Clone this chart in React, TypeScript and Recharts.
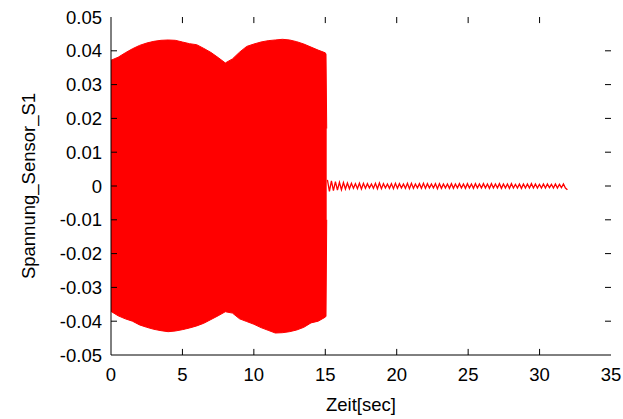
import {
  Area,
  ComposedChart,
  Line,
  ReferenceLine,
  XAxis,
  YAxis,
} from "recharts";

// time axis (sec) and voltage ticks
const xTicks = [0, 5, 10, 15, 20, 25, 30, 35];
const yTicks = [-0.05, -0.04, -0.03, -0.02, -0.01, 0, 0.01, 0.02, 0.03, 0.04, 0.05];

// burst 0..15 s: envelope of the oscillation, read every 0.5 s
const burstTime = [
  0, 0.5, 1, 1.5, 2, 2.5, 3, 3.5, 4, 4.5, 5, 5.5, 6, 6.5, 7, 7.5, 8, 8.5, 9, 9.5,
  10, 10.5, 11, 11.5, 12, 12.5, 13, 13.5, 14, 14.5, 15, 15.05, 15.1,
];
const burstHigh = [
  0.0372, 0.0381, 0.0394, 0.0406, 0.0416, 0.0423, 0.0428, 0.0431, 0.0432, 0.0431,
  0.0426, 0.0421, 0.0418, 0.0407, 0.0395, 0.038, 0.0364, 0.0376, 0.0396, 0.0413,
  0.042, 0.0426, 0.043, 0.0432, 0.0434, 0.0432, 0.0427, 0.042, 0.0411, 0.0402,
  0.0394, 0.039, 0.017,
];
const burstLow = [
  -0.0371, -0.0384, -0.0393, -0.04, -0.0411, -0.0418, -0.0424, -0.0428, -0.0431, -0.0429,
  -0.0425, -0.042, -0.0414, -0.0406, -0.0395, -0.0384, -0.0372, -0.0376, -0.0393, -0.0401,
  -0.0409, -0.0419, -0.0427, -0.0435, -0.0434, -0.0431, -0.0426, -0.0418, -0.0405, -0.04,
  -0.0388, -0.0385, -0.01,
];

// decay after 15 s, sampled every 0.14 s
const tailStart = 15.15;
const tailStep = 0.14;
const tailValues = [
  0.0018, -0.0016, 0.0015, -0.0014, 0.0013, -0.0012, 0.0011, -0.0011, 0.001, -0.0009,
  0.0009, -0.0008, 0.0008, -0.0007, 0.0007, -0.0008, 0.0008, -0.0009, 0.0008, -0.0007,
  0.0007, -0.0006, 0.0006, -0.0007, 0.0008, -0.0008, 0.0009, -0.0008, 0.0007, -0.0006,
  0.0006, -0.0007, 0.0007, -0.0008, 0.0008, -0.0007, 0.0007, -0.0006, 0.0006, -0.0007,
  0.0008, -0.0008, 0.0008, -0.0007, 0.0006, -0.0006, 0.0007, -0.0007, 0.0008, -0.0007,
  0.0007, -0.0006, 0.0006, -0.0006, 0.0007, -0.0008, 0.0007, -0.0007, 0.0006, -0.0006,
  0.0006, -0.0007, 0.0007, -0.0007, 0.0006, -0.0006, 0.0007, -0.0006, 0.0006, -0.0007,
  0.0007, -0.0006, 0.0006, -0.0007, 0.0007, -0.0006, 0.0006, -0.0006, 0.0007, -0.0006,
  0.0006, -0.0007, 0.0007, -0.0006, 0.0006, -0.0006, 0.0007, -0.0007, 0.0006, -0.0006,
  0.0006, -0.0007, 0.0007, -0.0006, 0.0005, -0.0006, 0.0006, -0.0007, 0.0006, -0.0006,
  0.0006, -0.0006, 0.0007, -0.0006, 0.0006, -0.0006, 0.0005, -0.0006, 0.0006, -0.0006,
  0.0006, -0.0005, 0.0005, -0.0006, 0.0006, -0.0006, 0.0005, -0.0005, 0.0006, -0.0006,
  -0.0011,
];

const data = [
  ...burstTime.map((t, i) => ({ t, band: [burstLow[i], burstHigh[i]] })),
  ...tailValues.map((v, i) => ({ t: +(tailStart + i * tailStep).toFixed(2), v })),
];

const X_MIN = 0;
const X_MAX = 35;
const Y_MIN = -0.05;
const Y_MAX = 0.05;
// inward tick length, about 6px, in axis units
const X_TICK = 0.42;
const Y_TICK = 0.0018;

const RED = "#ff0000";
const FONT = "'Liberation Sans', Arial, sans-serif";
const FS = 18.5;
const fmt = (v: number) => String(Number(v.toFixed(2)));

function BottomTick(props: any) {
  const { x, y, payload } = props;
  return (
    <text x={x} y={y} dy="0.71em" textAnchor="middle" fontSize={FS} fill="#000" fontFamily={FONT}>
      {payload.value}
    </text>
  );
}

function LeftTick(props: any) {
  const { x, y, payload } = props;
  return (
    <text x={x} y={y} dy="0.355em" textAnchor="end" fontSize={FS} fill="#000" fontFamily={FONT}>
      {fmt(payload.value)}
    </text>
  );
}

export default function App() {
  return (
    <div style={{ position: "absolute", left: 0, top: 0, background: "#fff" }}>
      <ComposedChart
        width={623}
        height={419}
        data={data}
        margin={{ top: 17, right: 12, bottom: 0, left: 0 }}
      >
        <XAxis
          dataKey="t"
          type="number"
          domain={[X_MIN, X_MAX]}
          ticks={xTicks}
          interval={0}
          height={64}
          stroke="#000"
          tickLine={false}
          tickSize={0}
          tickMargin={13}
          tick={(p: any) => <BottomTick {...p} />}
          label={{
            value: "Zeit[sec]",
            position: "insideBottom",
            offset: 8,
            style: { fontSize: FS, fill: "#000", fontFamily: FONT },
          }}
        />
        <XAxis
          xAxisId="top"
          orientation="top"
          dataKey="t"
          type="number"
          domain={[X_MIN, X_MAX]}
          height={0}
          stroke="#000"
          tickLine={false}
          tick={false}
        />
        <YAxis
          type="number"
          domain={[Y_MIN, Y_MAX]}
          ticks={yTicks}
          interval={0}
          width={111}
          stroke="#000"
          tickLine={false}
          tickSize={0}
          tickMargin={9}
          tick={(p: any) => <LeftTick {...p} />}
          label={{
            value: "Spannung_Sensor_S1",
            angle: -90,
            position: "insideLeft",
            offset: 28,
            style: { fontSize: FS, fill: "#000", fontFamily: FONT, textAnchor: "middle" },
          }}
        />
        <YAxis
          yAxisId="right"
          orientation="right"
          type="number"
          domain={[Y_MIN, Y_MAX]}
          width={0}
          stroke="#000"
          tickLine={false}
          tick={false}
        />
        {xTicks.slice(1, -1).map((t) => (
          <ReferenceLine
            key={`xb${t}`}
            ifOverflow="visible"
            segment={[{ x: t, y: Y_MIN }, { x: t, y: Y_MIN + Y_TICK }]}
            stroke="#000"
          />
        ))}
        {xTicks.slice(1, -1).map((t) => (
          <ReferenceLine
            key={`xt${t}`}
            ifOverflow="visible"
            segment={[{ x: t, y: Y_MAX }, { x: t, y: Y_MAX - Y_TICK }]}
            stroke="#000"
          />
        ))}
        {yTicks.slice(1, -1).map((v) => (
          <ReferenceLine
            key={`yl${v}`}
            ifOverflow="visible"
            segment={[{ x: X_MIN, y: v }, { x: X_MIN + X_TICK, y: v }]}
            stroke="#000"
          />
        ))}
        {yTicks.slice(1, -1).map((v) => (
          <ReferenceLine
            key={`yr${v}`}
            ifOverflow="visible"
            segment={[{ x: X_MAX, y: v }, { x: X_MAX - X_TICK, y: v }]}
            stroke="#000"
          />
        ))}
        <Area
          dataKey="band"
          type="linear"
          stroke={RED}
          strokeWidth={1}
          fill={RED}
          fillOpacity={1}
          isAnimationActive={false}
          dot={false}
          activeDot={false}
        />
        <Line
          dataKey="v"
          type="linear"
          stroke={RED}
          strokeWidth={1.3}
          dot={false}
          activeDot={false}
          isAnimationActive={false}
        />
      </ComposedChart>
    </div>
  );
}
